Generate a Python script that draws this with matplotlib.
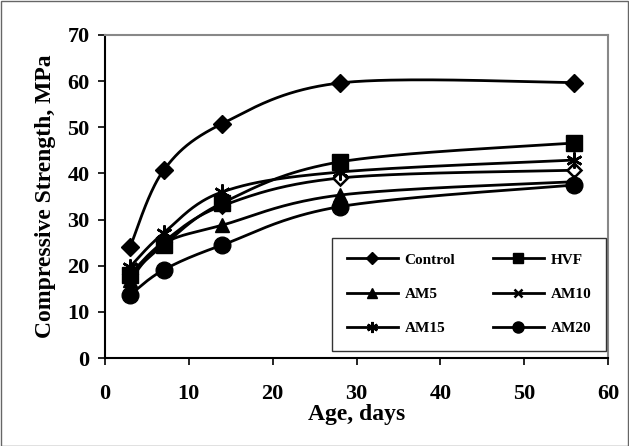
import numpy as np
import matplotlib
matplotlib.use("Agg")
import matplotlib.pyplot as plt
from matplotlib.lines import Line2D
from matplotlib.patches import Rectangle

ages = [3, 7, 14, 28, 56]
control = [24.1, 40.7, 50.8, 59.6, 59.7]
hvf = [18.0, 24.5, 33.6, 42.5, 46.6]
am5 = [17.0, 24.8, 28.8, 35.3, 38.2]
am10 = [18.2, 25.2, 33.0, 39.0, 40.7]
am15 = [19.8, 27.1, 36.0, 40.3, 42.9]
am20 = [13.7, 19.1, 24.5, 32.8, 37.5]

series = [("Control", control), ("HVF", hvf), ("AM5", am5),
          ("AM10", am10), ("AM15", am15), ("AM20", am20)]

fig = plt.figure(figsize=(6.29, 4.46), dpi=100)
ax = fig.add_axes([105/629, 1-358/446, 503/629, 323/446])

sx, sy = 503/60.0, 323/70.0

def smooth(x, y, n=40):
    P = np.column_stack([np.asarray(x, float)*sx, np.asarray(y, float)*sy])
    m = len(P)
    out = []
    for i in range(m-1):
        p0 = P[i-1] if i > 0 else P[i]
        p1 = P[i]
        p2 = P[i+1]
        p3 = P[i+2] if i+2 < m else P[i+1]
        c1 = p1 + (p2-p0)/6.0
        c2 = p2 - (p3-p1)/6.0
        t = np.linspace(0, 1, n)[:, None]
        b = (1-t)**3*p1 + 3*(1-t)**2*t*c1 + 3*(1-t)*t**2*c2 + t**3*p2
        out.append(b if i == 0 else b[1:])
    out = np.vstack(out)
    return out[:, 0]/sx, out[:, 1]/sy

styles = {
    "Control": dict(marker="D", ms=9, mfc="black"),
    "HVF": dict(marker="s", ms=12, mfc="black"),
    "AM5": dict(marker="^", ms=10, mfc="black"),
    "AM10": dict(marker="D", ms=6.8, mfc="white", mew=1.8),
    "AM15": dict(marker=(6, 2, 0), ms=11.5, mew=1.8),
    "AM20": dict(marker="o", ms=12, mfc="black"),
}
zo = {"AM10": 3, "Control": 4, "HVF": 4, "AM5": 4, "AM15": 4, "AM20": 5}

for name, vals in series:
    xs, ys = smooth(ages, vals)
    ax.plot(xs, ys, color="black", lw=2.0, zorder=2)
for name, vals in series:
    st = styles[name]
    ax.plot(ages, vals, ls="none", color="black", mec="black", zorder=zo[name], **st)

ax.set_xlim(0, 60)
ax.set_ylim(0, 70)
ax.set_xticks(range(0, 61, 10))
ax.set_yticks(range(0, 71, 10))
tfont = dict(family="Liberation Serif", weight="bold", size=16)
lfont = dict(family="Liberation Serif", weight="bold", size=17)
ax.set_xticklabels([str(v) for v in range(0, 61, 10)], **tfont)
ax.set_yticklabels([str(v) for v in range(0, 71, 10)], **tfont)
ax.tick_params(direction="out", length=5, width=1.2, color="black")
ax.tick_params(axis="x", pad=14)
ax.tick_params(axis="y", pad=6)
ax.set_xlabel("Age, days", labelpad=0, **lfont)
ax.set_ylabel("Compressive Strength, MPa", labelpad=8, **lfont)
for s in ["left", "bottom"]:
    ax.spines[s].set_color("black")
    ax.spines[s].set_linewidth(1.5)
for s in ["top", "right"]:
    ax.spines[s].set_color("#888888")
    ax.spines[s].set_linewidth(1.5)

leg_markers = {
    "Control": dict(marker="D", ms=6),
    "HVF": dict(marker="s", ms=7),
    "AM5": dict(marker="^", ms=7),
    "AM10": dict(marker="x", ms=6, mew=1.8),
    "AM15": dict(marker=(6, 2, 0), ms=8, mew=1.8),
    "AM20": dict(marker="o", ms=8),
}
order = [0, 2, 4, 1, 3, 5]
names = [series[i][0] for i in order]
handles = [Line2D([0], [0], color="black", lw=2.0, mfc="black", mec="black",
                  **leg_markers[n]) for n in names]
leg = ax.legend(handles, names, ncol=2,
                loc="upper left", bbox_to_anchor=(0.451, 0.031, 0.546, 0.341),
                mode="expand", prop=dict(family="Liberation Serif", weight="bold", size=11),
                frameon=True, fancybox=False, edgecolor="black",
                handlelength=3.3, handletextpad=0.45, labelspacing=1.35,
                borderaxespad=0, borderpad=1.0, columnspacing=1.5)
leg.get_frame().set_linewidth(1.0)

fig.patches.append(Rectangle((0.001, 0.001), 0.997, 0.997, transform=fig.transFigure,
                             fill=False, edgecolor="#666666", lw=1.0))

fig.savefig("out.png", dpi=100)
